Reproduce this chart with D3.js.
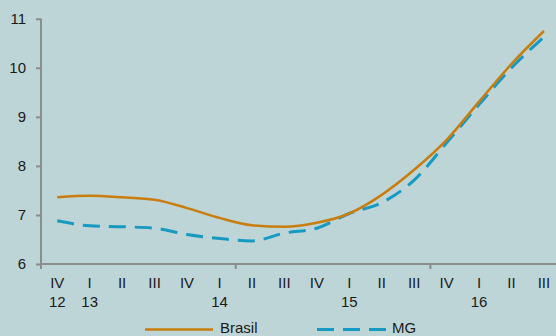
<!DOCTYPE html>
<html>
<head>
<meta charset="utf-8">
<script src="https://cdn.jsdelivr.net/npm/d3@7"></script>
<style>
  html, body { margin: 0; padding: 0; background: #bdd5d6; }
  svg { display: block; font-family: "Liberation Sans", Arial, sans-serif; }
</style>
</head>
<body>
<svg id="chart" width="556" height="336"></svg>
<script>
// Quarterly series, IV/2012 to III/2016
const quarters = ["IV", "I", "II", "III", "IV", "I", "II", "III", "IV", "I", "II", "III", "IV", "I", "II", "III"];
const years    = ["12", "13", "", "", "", "14", "", "", "", "15", "", "", "", "16", "", ""];
const brasil   = [7.36, 7.39, 7.36, 7.31, 7.14, 6.94, 6.79, 6.76, 6.84, 7.03, 7.41, 7.92, 8.53, 9.31, 10.08, 10.75];
const mg       = [6.88, 6.78, 6.76, 6.73, 6.60, 6.52, 6.47, 6.63, 6.73, 7.03, 7.25, 7.71, 8.47, 9.25, 10.00, 10.63];
const yTicks   = [6, 7, 8, 9, 10, 11];
const seriesNames = ["Brasil", "MG"];

const svg = d3.select("#chart");
const plotLeft = 41, plotTop = 18.75, plotBottom = 264;
const band = 32.45;

const x = d3.scaleBand()
  .domain(d3.range(quarters.length))
  .range([plotLeft, plotLeft + band * quarters.length])
  .paddingInner(0).paddingOuter(0);

const y = d3.scaleLinear().domain([6, 11]).range([plotBottom, plotTop]);

const axisColor = "#8c8c8c";
const textColor = "#1a1a1a";

// y axis
const yAxis = svg.append("g").attr("transform", `translate(${plotLeft},0)`)
  .call(d3.axisLeft(y).tickValues(yTicks).tickSize(5).tickPadding(10).tickFormat(d3.format("d")));
yAxis.select(".domain").attr("stroke", axisColor).attr("stroke-width", 2)
  .attr("d", `M0,${plotTop}H0V${plotBottom}`);
yAxis.selectAll(".tick line").attr("stroke", axisColor).attr("stroke-width", 2);
yAxis.selectAll(".tick text").attr("fill", textColor).style("font-size", "15px");

// x axis line
svg.append("line")
  .attr("x1", plotLeft - 1).attr("x2", 556)
  .attr("y1", plotBottom).attr("y2", plotBottom)
  .attr("stroke", axisColor).attr("stroke-width", 2);

// x tick marks every six quarters
[0, 6, 12].forEach(i => {
  const xv = x(i);
  svg.append("line")
    .attr("x1", xv).attr("x2", xv)
    .attr("y1", plotBottom).attr("y2", plotBottom + 5)
    .attr("stroke", axisColor).attr("stroke-width", 2);
});

// category labels
const xc = i => x(i) + x.bandwidth() / 2;
svg.append("g").selectAll("text").data(quarters).join("text")
  .attr("x", (d, i) => xc(i)).attr("y", 288)
  .attr("text-anchor", "middle").attr("fill", textColor)
  .style("font-size", "15px").text(d => d);
svg.append("g").selectAll("text").data(years).join("text")
  .attr("x", (d, i) => xc(i)).attr("y", 306.5)
  .attr("text-anchor", "middle").attr("fill", textColor)
  .style("font-size", "15px").text(d => d);

// lines
const line = d3.line()
  .x((d, i) => xc(i))
  .y(d => y(d))
  .curve(d3.curveMonotoneX);

const orange = "#c97d0e";
const blue = "#169ac2";

svg.append("path").datum(mg)
  .attr("d", line).attr("fill", "none")
  .attr("stroke", blue).attr("stroke-width", 3)
  .attr("stroke-dasharray", "17,9");

svg.append("path").datum(brasil)
  .attr("d", line).attr("fill", "none")
  .attr("stroke", orange).attr("stroke-width", 2.5);

// legend
const legend = svg.append("g");
legend.append("line").attr("x1", 145).attr("x2", 213).attr("y1", 329.5).attr("y2", 329.5)
  .attr("stroke", orange).attr("stroke-width", 2.5);
legend.append("text").attr("x", 220).attr("y", 333).attr("fill", textColor)
  .style("font-size", "15px").text(seriesNames[0]);
legend.append("line").attr("x1", 317).attr("x2", 386).attr("y1", 329.5).attr("y2", 329.5)
  .attr("stroke", blue).attr("stroke-width", 3).attr("stroke-dasharray", "17,9");
legend.append("text").attr("x", 392).attr("y", 333).attr("fill", textColor)
  .style("font-size", "15px").text(seriesNames[1]);
</script>
</body>
</html>
